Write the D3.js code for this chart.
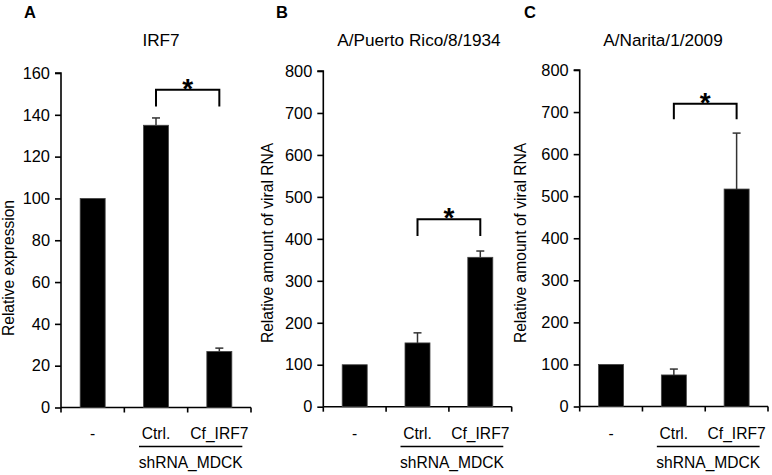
<!DOCTYPE html>
<html>
<head>
<meta charset="utf-8">
<script src="https://cdn.jsdelivr.net/npm/d3@7/dist/d3.min.js"></script>
<style>
  html, body { margin: 0; padding: 0; background: #fff; }
  svg text { font-family: "Liberation Sans", Arial, sans-serif; fill: #000; }
</style>
</head>
<body>
<svg id="chart" width="772" height="475"></svg>
<script>
// ---- Data ----
const categories = ["-", "Ctrl.", "Cf_IRF7"];
const groupLabel = "shRNA_MDCK";

const panelLetters = ["A", "B", "C"];
const panelTitles = ["IRF7", "A/Puerto Rico/8/1934", "A/Narita/1/2009"];
const yAxisLabels = ["Relative expression", "Relative amount of viral RNA", "Relative amount of viral RNA"];

const irf7Values = [100, 135, 26.8];
const irf7Errors = [0, 3.5, 1.6];
const pr8Values = [100, 152, 356];
const pr8Errors = [0, 24, 15];
const naritaValues = [100, 75, 517];
const naritaErrors = [0, 14, 133];

const yTicksA = [0, 20, 40, 60, 80, 100, 120, 140, 160];
const yTicksBC = [0, 100, 200, 300, 400, 500, 600, 700, 800];

// significance brackets: [bracket top value, leg bottom value]
const bracketA = [152, 144];
const bracketB = [447, 407];
const bracketC = [720, 683];

// ---- Layout ----
const panels = [
  { values: irf7Values, errors: irf7Errors, ticks: yTicksA, max: 160, bracket: bracketA,
    x0: 61, x1: 251, yTop: 73, yBot: 407.5, letterX: 24, titleX: 161, ylabX: 14, ylabY: 268 },
  { values: pr8Values, errors: pr8Errors, ticks: yTicksBC, max: 800, bracket: bracketB,
    x0: 323.3, x1: 511.7, yTop: 71, yBot: 406.7, letterX: 276, titleX: 419, ylabX: 273, ylabY: 243 },
  { values: naritaValues, errors: naritaErrors, ticks: yTicksBC, max: 800, bracket: bracketC,
    x0: 579.7, x1: 768, yTop: 70, yBot: 406.5, letterX: 524, titleX: 663, ylabX: 526, ylabY: 243 }
];

const svg = d3.select("#chart");
const barW = 25;

panels.forEach((p, i) => {
  const g = svg.append("g");
  const x = d3.scaleBand().domain(categories).range([p.x0, p.x1]).padding(0);
  const y = d3.scaleLinear().domain([0, p.max]).range([p.yBot, p.yTop]);
  const cx = c => x(c) + x.bandwidth() / 2;

  // panel letter
  g.append("text").attr("x", p.letterX).attr("y", 17.5)
    .style("font-size", "16.5px").style("font-weight", "bold").text(panelLetters[i]);
  // title
  g.append("text").attr("x", p.titleX).attr("y", 45.5).attr("text-anchor", "middle")
    .style("font-size", "17.2px").text(panelTitles[i]);
  // y label
  g.append("text")
    .attr("transform", `translate(${p.ylabX},${p.ylabY}) rotate(-90)`)
    .attr("text-anchor", "middle").style("font-size", "15.6px").text(yAxisLabels[i]);

  // y axis
  const yAxis = d3.axisLeft(y).tickValues(p.ticks).tickSize(6).tickPadding(5).tickFormat(d3.format("d"));
  const ya = g.append("g").attr("transform", `translate(${p.x0},0)`).call(yAxis);
  ya.select(".domain").attr("stroke", "#000").attr("stroke-width", 1.6)
    .attr("d", `M-6,${y(p.max)}H0V${y(0)}`);
  ya.selectAll(".tick line").attr("stroke", "#000").attr("stroke-width", 1.6);
  ya.selectAll(".tick text").style("font-size", "16.4px")
    .style("font-family", "Liberation Sans, Arial, sans-serif").attr("fill", "#000");

  // x axis line with ticks at band boundaries
  const xa = g.append("g");
  xa.append("line").attr("x1", p.x0).attr("x2", p.x1).attr("y1", y(0)).attr("y2", y(0))
    .attr("stroke", "#000").attr("stroke-width", 1.6);
  const bounds = categories.map(c => x(c)).concat([p.x1]);
  xa.selectAll("line.xt").data(bounds).enter().append("line").attr("class", "xt")
    .attr("x1", d => d).attr("x2", d => d).attr("y1", y(0)).attr("y2", y(0) + 5)
    .attr("stroke", "#000").attr("stroke-width", 1.6);

  // bars
  g.selectAll("rect.bar").data(categories).enter().append("rect").attr("class", "bar")
    .attr("x", c => cx(c) - barW / 2).attr("width", barW)
    .attr("y", (c, j) => y(p.values[j])).attr("height", (c, j) => y(0) - y(p.values[j]))
    .attr("fill", "#000").attr("stroke", "#444").attr("stroke-width", 0.8);

  // error bars (upward only)
  categories.forEach((c, j) => {
    const e = p.errors[j];
    if (!e) return;
    const top = y(p.values[j] + e);
    g.append("line").attr("x1", cx(c)).attr("x2", cx(c)).attr("y1", y(p.values[j])).attr("y2", top)
      .attr("stroke", "#333").attr("stroke-width", 1.5);
    g.append("line").attr("x1", cx(c) - 4).attr("x2", cx(c) + 4).attr("y1", top).attr("y2", top)
      .attr("stroke", "#333").attr("stroke-width", 1.5);
  });

  // significance bracket between Ctrl. and Cf_IRF7
  const bx1 = cx(categories[1]), bx2 = cx(categories[2]);
  const by = y(p.bracket[0]), bl = y(p.bracket[1]);
  g.append("path").attr("d", `M${bx1},${bl}V${by}H${bx2}V${bl}`)
    .attr("fill", "none").attr("stroke", "#000").attr("stroke-width", 2);
  g.append("text").attr("x", (bx1 + bx2) / 2).attr("y", by + 8).attr("text-anchor", "middle")
    .style("font-size", "28px").style("font-weight", "bold").text("*");

  // category labels
  g.selectAll("text.cat").data(categories).enter().append("text").attr("class", "cat")
    .attr("x", c => cx(c)).attr("y", 439).attr("text-anchor", "middle")
    .style("font-size", "15.6px").text(c => c);

  // group underline + label
  const lx1 = bx1 - 17, lx2 = bx2 + 23;
  g.append("line").attr("x1", lx1).attr("x2", lx2).attr("y1", 446.5).attr("y2", 446.5)
    .attr("stroke", "#000").attr("stroke-width", 1.5);
  g.append("text").attr("x", (lx1 + lx2) / 2).attr("y", 468).attr("text-anchor", "middle")
    .style("font-size", "15.6px").text(groupLabel);
});
</script>
</body>
</html>
